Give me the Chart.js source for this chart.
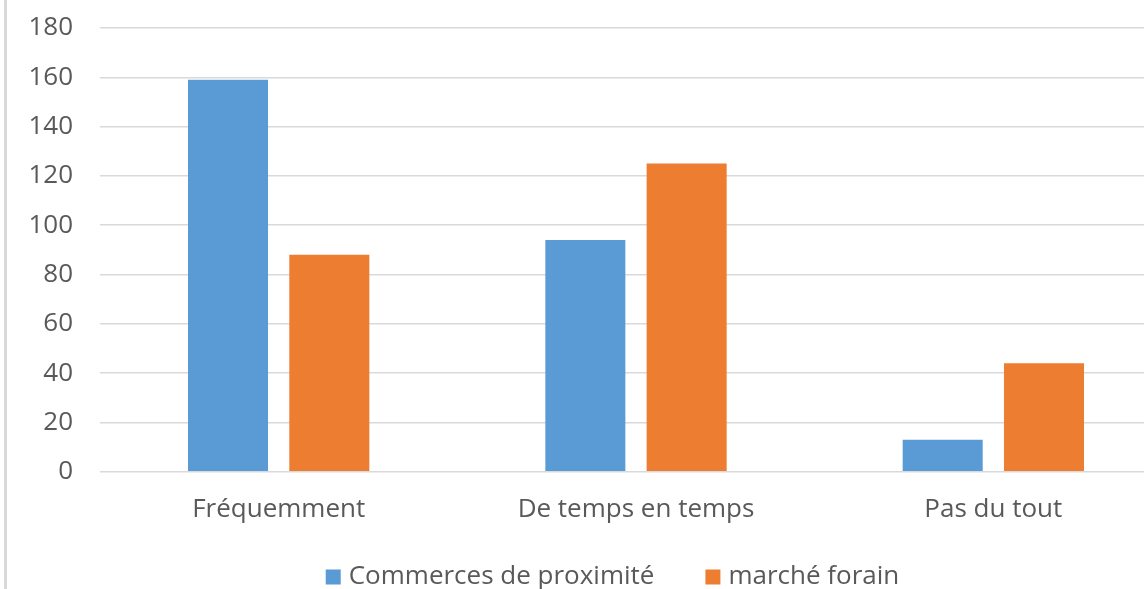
<!DOCTYPE html>
<html>
<head>
<meta charset="utf-8">
<script src="https://cdn.jsdelivr.net/npm/chart.js@4/dist/chart.umd.min.js"></script>
<style>
html,body{margin:0;padding:0;overflow:hidden;background:#fff;width:1144px;height:589px;}
#wrap{position:absolute;left:0;top:0;width:1172px;height:589px;}
</style>
</head>
<body>
<div id="wrap"><canvas id="c" width="1172" height="589"></canvas></div>
<script>
const categories = ["Fréquemment", "De temps en temps", "Pas du tout"];
const seriesNames = ["Commerces de proximité", "marché forain"];
const commerces = [159, 94, 13];
const marche = [88, 125, 44];
const yTicks = [0, 20, 40, 60, 80, 100, 120, 140, 160, 180];
const colors = ['#5B9BD5', '#ED7D31'];

const FONT = "'Open Sans', 'Noto Sans', sans-serif";
const FSIZE = 26;

const borderPlugin = {
  id: 'leftBorder',
  afterDraw(chart) {
    const ctx = chart.ctx;
    ctx.save();
    ctx.fillStyle = '#d9d9d9';
    ctx.fillRect(4, 0, 3, chart.height);
    ctx.restore();
  }
};

// Custom legend drawn from the datasets
const legendPlugin = {
  id: 'customLegend',
  afterDraw(chart) {
    const ctx = chart.ctx;
    ctx.save();
    ctx.font = FSIZE + 'px ' + FONT;
    ctx.textBaseline = 'middle';
    const box = 15, gapBoxText = 8, gapItems = 51;
    const ds = chart.data.datasets;
    const widths = ds.map(d => box + gapBoxText + ctx.measureText(d.label).width);
    const total = widths.reduce((a, b) => a + b, 0) + gapItems * (ds.length - 1);
    let x = 612.5 - total / 2;
    const cy = 577;
    ds.forEach((d, i) => {
      ctx.fillStyle = d.backgroundColor;
      ctx.fillRect(x, cy - box / 2, box, box);
      ctx.fillStyle = '#595959';
      ctx.fillText(d.label, x + box + gapBoxText, cy);
      x += widths[i] + gapItems;
    });
    ctx.restore();
  }
};

new Chart(document.getElementById('c'), {
  type: 'bar',
  data: {
    labels: categories,
    datasets: [
      {label: seriesNames[0], data: commerces, backgroundColor: colors[0], borderWidth: 0},
      {label: seriesNames[1], data: marche, backgroundColor: colors[1], borderWidth: 0}
    ]
  },
  options: {
    responsive: false,
    animation: false,
    devicePixelRatio: 1,
    categoryPercentage: 0.567,
    barPercentage: 0.79,
    layout: {padding: {left: 0, top: 28, right: 0, bottom: 42}},
    scales: {
      x: {
        grid: {display: false, drawTicks: false},
        border: {display: false},
        ticks: {color: '#595959', font: {family: FONT, size: FSIZE}, padding: 22}
      },
      y: {
        min: 0, max: 180,
        afterBuildTicks(axis) { axis.ticks = yTicks.map(v => ({value: v})); },
        afterFit(axis) { axis.width = 100; axis.paddingTop = 0; axis.paddingBottom = 0; },
        grid: {color: '#d9d9d9', lineWidth: 1.5, drawTicks: false},
        border: {display: false},
        ticks: {color: '#595959', font: {family: FONT, size: FSIZE}, padding: 27}
      }
    },
    plugins: {
      legend: {display: false},
      tooltip: {enabled: false}
    }
  },
  plugins: [borderPlugin, legendPlugin]
});
</script>
</body>
</html>
